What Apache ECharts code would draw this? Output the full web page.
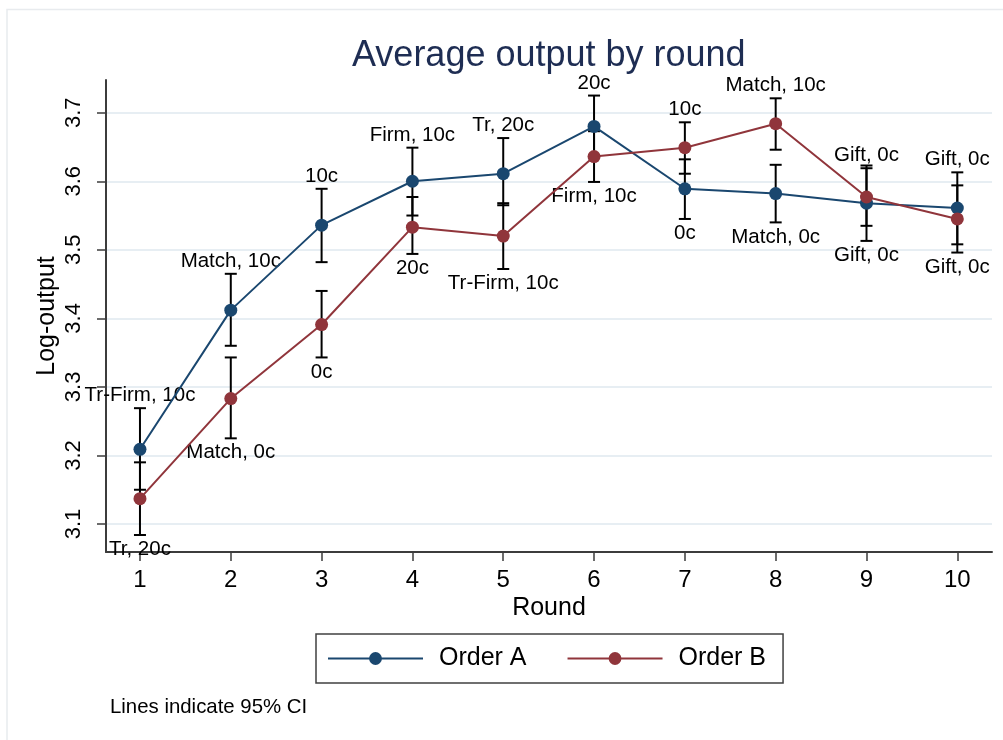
<!DOCTYPE html>
<html>
<head>
<meta charset="utf-8">
<script src="https://cdn.jsdelivr.net/npm/echarts@6/dist/echarts.min.js"></script>
<style>html,body{margin:0;padding:0;background:#fff}#c{width:1003px;height:740px}</style>
</head>
<body>
<div id="c"></div>
<script>
const rounds = [1, 2, 3, 4, 5, 6, 7, 8, 9, 10];
const yTicks = [3.1, 3.2, 3.3, 3.4, 3.5, 3.6, 3.7];

const meanA = [3.209, 3.412, 3.536, 3.600, 3.611, 3.680, 3.589, 3.582, 3.568, 3.561];
const loA   = [3.150, 3.360, 3.482, 3.550, 3.565, 3.635, 3.545, 3.540, 3.513, 3.508];
const hiA   = [3.269, 3.465, 3.589, 3.649, 3.663, 3.725, 3.632, 3.624, 3.623, 3.613];

const meanB = [3.137, 3.283, 3.391, 3.533, 3.520, 3.636, 3.649, 3.684, 3.577, 3.545];
const loB   = [3.084, 3.225, 3.343, 3.494, 3.472, 3.599, 3.611, 3.646, 3.535, 3.496];
const hiB   = [3.190, 3.343, 3.440, 3.577, 3.568, 3.673, 3.686, 3.721, 3.619, 3.594];

const labelsA = ["Tr-Firm, 10c", "Match, 10c", "10c", "Firm, 10c", "Tr, 20c", "20c", "0c", "Match, 0c", "Gift, 0c", "Gift, 0c"];
const labelsB = ["Tr, 20c", "Match, 0c", "0c", "20c", "Tr-Firm, 10c", "Firm, 10c", "10c", "Match, 10c", "Gift, 0c", "Gift, 0c"];

const FONT = '"Liberation Sans", Arial, Helvetica, sans-serif';
const colA = '#1a476f';
const colB = '#90353b';

function ciSeries(id, mean, lo, hi, labels, other) {
  return {
    type: 'custom',
    name: id,
    z: 1,
    silent: true,
    data: rounds.map((r, i) => [r, lo[i], hi[i], mean[i], other[i], i]),
    encode: { x: 0, y: [1, 2] },
    renderItem: function (params, api) {
      const x = api.value(0);
      const pLo = api.coord([x, api.value(1)]);
      const pHi = api.coord([x, api.value(2)]);
      const upper = api.value(3) >= api.value(4);
      const lbl = labels[api.value(5)];
      const cw = 6;
      const st = { stroke: '#000', lineWidth: 2 };
      return {
        type: 'group',
        children: [
          { type: 'line', shape: { x1: pLo[0], y1: pLo[1], x2: pHi[0], y2: pHi[1] }, style: st },
          { type: 'line', shape: { x1: pLo[0] - cw, y1: pLo[1], x2: pLo[0] + cw, y2: pLo[1] }, style: st },
          { type: 'line', shape: { x1: pHi[0] - cw, y1: pHi[1], x2: pHi[0] + cw, y2: pHi[1] }, style: st },
          {
            type: 'text',
            x: pLo[0],
            y: upper ? pHi[1] - 2 : pLo[1] + 4,
            z2: 50,
            style: {
              text: lbl,
              align: 'center',
              verticalAlign: upper ? 'bottom' : 'top',
              font: '20.5px ' + FONT,
              fill: '#000'
            }
          }
        ]
      };
    }
  };
}

function lineSeries(name, mean, color) {
  return {
    type: 'line',
    name: name,
    z: 3,
    data: rounds.map((r, i) => [r, mean[i]]),
    symbol: 'circle',
    symbolSize: 13,
    showAllSymbol: true,
    lineStyle: { color: color, width: 2 },
    itemStyle: { color: color },
    emphasis: { disabled: true }
  };
}

const chart = echarts.init(document.getElementById('c'), null, { renderer: 'canvas' });
chart.setOption({
  animation: false,
  backgroundColor: '#fff',
  textStyle: { fontFamily: FONT },
  title: {
    text: 'Average output by round',
    left: 352,
    top: 38,
    padding: 0,
    textStyle: { fontSize: 36, fontWeight: 'normal', color: '#1e2d53', fontFamily: FONT }
  },
  grid: { left: 106, top: 80, right: 11, bottom: 188, containLabel: false },
  xAxis: {
    type: 'value',
    min: 0.626,
    max: 10.382,
    name: 'Round',
    nameLocation: 'middle',
    nameGap: 44,
    nameMoveOverlap: false,
    nameTextStyle: { fontSize: 25, color: '#000', fontFamily: FONT },
    axisLine: { show: true, onZero: false, lineStyle: { color: '#3c3c3c', width: 2 } },
    axisTick: { show: true, length: 9, customValues: rounds, lineStyle: { color: '#3c3c3c', width: 1.5 } },
    axisLabel: { customValues: rounds, fontSize: 24, color: '#000', margin: 16, fontFamily: FONT },
    splitLine: { show: false }
  },
  yAxis: {
    type: 'value',
    min: 3.0592,
    max: 3.7477,
    name: 'Log-output',
    nameLocation: 'middle',
    nameGap: 46,
    nameMoveOverlap: false,
    nameTextStyle: { fontSize: 25, color: '#000', fontFamily: FONT },
    axisLine: { show: true, onZero: false, lineStyle: { color: '#3c3c3c', width: 2 } },
    axisTick: { show: true, length: 9, customValues: yTicks, lineStyle: { color: '#3c3c3c', width: 1.5 } },
    axisLabel: {
      customValues: yTicks,
      rotate: 90,
      fontSize: 22,
      color: '#000',
      margin: 21,
      fontFamily: FONT,
      formatter: v => v.toFixed(1)
    },
    splitLine: { show: true, lineStyle: { color: '#e7eef3', width: 2 } }
  },
  legend: {
    data: ['Order A', 'Order B'],
    left: 316,
    top: 634,
    orient: 'horizontal',
    padding: [12, 17, 12, 11],
    borderColor: '#404040',
    borderWidth: 1.5,
    borderRadius: 0,
    itemWidth: 95,
    itemHeight: 16,
    itemGap: 40,
    selectedMode: false,
    textStyle: { fontSize: 25, color: '#000', fontFamily: FONT, lineHeight: 25, padding: [0, 0, 0, 11] }
  },
  graphic: [
    {
      type: 'rect',
      silent: true,
      shape: { x: 7, y: 9.5, width: 1100, height: 800 },
      style: { fill: 'none', stroke: '#e8ebee', lineWidth: 1.5 }
    },
    {
      type: 'text',
      left: 110,
      top: 697,
      style: { text: 'Lines indicate 95% CI', font: '20.4px ' + FONT, fill: '#000' }
    }
  ],
  series: [
    ciSeries('CI A', meanA, loA, hiA, labelsA, meanB),
    ciSeries('CI B', meanB, loB, hiB, labelsB, meanA),
    lineSeries('Order A', meanA, colA),
    lineSeries('Order B', meanB, colB)
  ]
});
</script>
</body>
</html>
